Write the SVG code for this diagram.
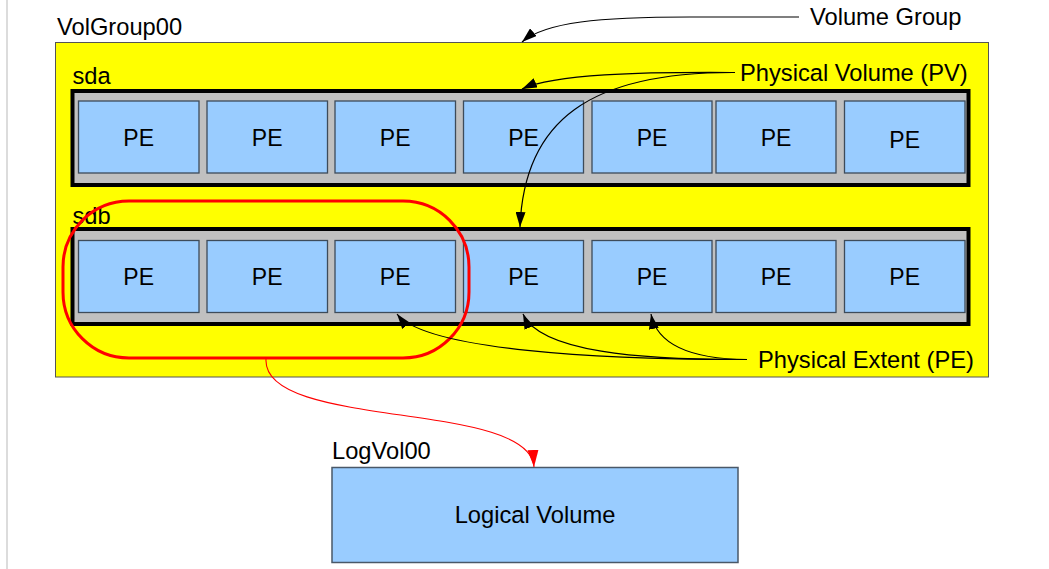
<svg xmlns="http://www.w3.org/2000/svg" width="1049" height="569" viewBox="0 0 1049 569">
  <style>
    text { font-family: "Liberation Sans", Arial, sans-serif; font-size: 23.7px; fill: #000; }
    .pe rect { fill: #99ccff; stroke: #3d4b5a; stroke-width: 1.3; }
    .pe text { text-anchor: middle; font-size: 23px; }
    .row { fill: #c0c0c0; stroke: #000; stroke-width: 4; }
    .link { fill: none; stroke: #000; stroke-width: 1.2; }
    .lv { fill: none; stroke: #ff0000; stroke-width: 1.1; }
  </style>
  <defs>
    <marker id="arrow" viewBox="0 0 15 10" refX="15" refY="5" markerWidth="15" markerHeight="10" markerUnits="userSpaceOnUse" orient="auto">
      <path d="M0,0 L15,5 L0,10 z" fill="#000"/>
    </marker>
    <marker id="arrowRed" viewBox="0 0 17 11" refX="17" refY="5.5" markerWidth="17" markerHeight="11" markerUnits="userSpaceOnUse" orient="auto">
      <path d="M0,0 L17,5.5 L0,11 z" fill="#ff0000"/>
    </marker>
  </defs>

  <rect width="1049" height="569" fill="#ffffff"/>
  <rect x="6" y="0" width="2" height="569" fill="#dcdcdc"/>

  <!-- volume group -->
  <g id="volgroup00">
    <rect x="55.5" y="42.5" width="933" height="334.5" fill="#ffff00" stroke="#555" stroke-width="1"/>
    <text x="57" y="35">VolGroup00</text>
  </g>

  <!-- physical volume sda -->
  <g id="sda">
    <text x="72.5" y="83.5">sda</text>
    <rect class="row" x="72.5" y="91" width="896" height="94"/>
    <g class="pe">
      <rect x="78.5" y="101" width="120.5" height="72"/><text x="138.7" y="145.5">PE</text>
      <rect x="207" y="101" width="120.5" height="72"/><text x="267.2" y="145.5">PE</text>
      <rect x="335" y="101" width="120.5" height="72"/><text x="395.2" y="145.5">PE</text>
      <rect x="463.5" y="101" width="120" height="72"/><text x="523.5" y="145.5">PE</text>
      <rect x="592" y="101" width="120" height="72"/><text x="652" y="145.5">PE</text>
      <rect x="716" y="101" width="120" height="72"/><text x="776" y="145.5">PE</text>
      <rect x="844.5" y="101" width="120.5" height="72"/><text x="904.7" y="147.5">PE</text>
    </g>
  </g>

  <!-- physical volume sdb -->
  <g id="sdb">
    <text x="72.5" y="223.5">sdb</text>
    <rect class="row" x="72.5" y="229" width="896" height="95"/>
    <g class="pe">
      <rect x="78.5" y="240.5" width="120.5" height="72"/><text x="138.7" y="285">PE</text>
      <rect x="207" y="240.5" width="120.5" height="72"/><text x="267.2" y="285">PE</text>
      <rect x="335" y="240.5" width="120.5" height="72"/><text x="395.2" y="285">PE</text>
      <rect x="463.5" y="240.5" width="120" height="72"/><text x="523.5" y="285">PE</text>
      <rect x="592" y="240.5" width="120" height="72"/><text x="652" y="285">PE</text>
      <rect x="716" y="240.5" width="120" height="72"/><text x="776" y="285">PE</text>
      <rect x="844.5" y="240.5" width="120.5" height="72"/><text x="904.7" y="285">PE</text>
    </g>
  </g>

  <!-- extents grouped into the logical volume -->
  <g id="lv-selection">
    <rect x="63" y="201" width="406" height="157" rx="66" ry="66" fill="none" stroke="#ff0000" stroke-width="3"/>
  </g>

  <!-- logical volume -->
  <g id="logvol00">
    <text x="332" y="459">LogVol00</text>
    <rect x="332" y="467.5" width="406" height="95" fill="#99ccff" stroke="#4a5868" stroke-width="1.5"/>
    <text x="535" y="523" text-anchor="middle">Logical Volume</text>
  </g>

  <!-- callout labels -->
  <g id="label-vg"><text x="810" y="25">Volume Group</text></g>
  <g id="label-pv"><text x="740" y="81">Physical Volume (PV)</text></g>
  <g id="label-pe"><text x="758" y="368">Physical Extent (PE)</text></g>

  <!-- connectors -->
  <g id="connectors">
    <path class="link" d="M799,17 L690,17 C600,17 545,22 522,42" marker-end="url(#arrow)"/>
    <path class="link" d="M731,72.5 C640,72 555,74 522,89" marker-end="url(#arrow)"/>
    <path class="link" d="M735,72.5 C590,72 524,120 520,227" marker-end="url(#arrow)"/>
    <path class="link" d="M747,359.5 C600,360 425,350 397,314" marker-end="url(#arrow)"/>
    <path class="link" d="M747,359.5 C640,360 540,352 523,314" marker-end="url(#arrow)"/>
    <path class="link" d="M747,359.5 C690,359 657,345 651,314" marker-end="url(#arrow)"/>
    <path class="lv" d="M266,359 C262,430 530,400 534,467" marker-end="url(#arrowRed)"/>
  </g>
</svg>
